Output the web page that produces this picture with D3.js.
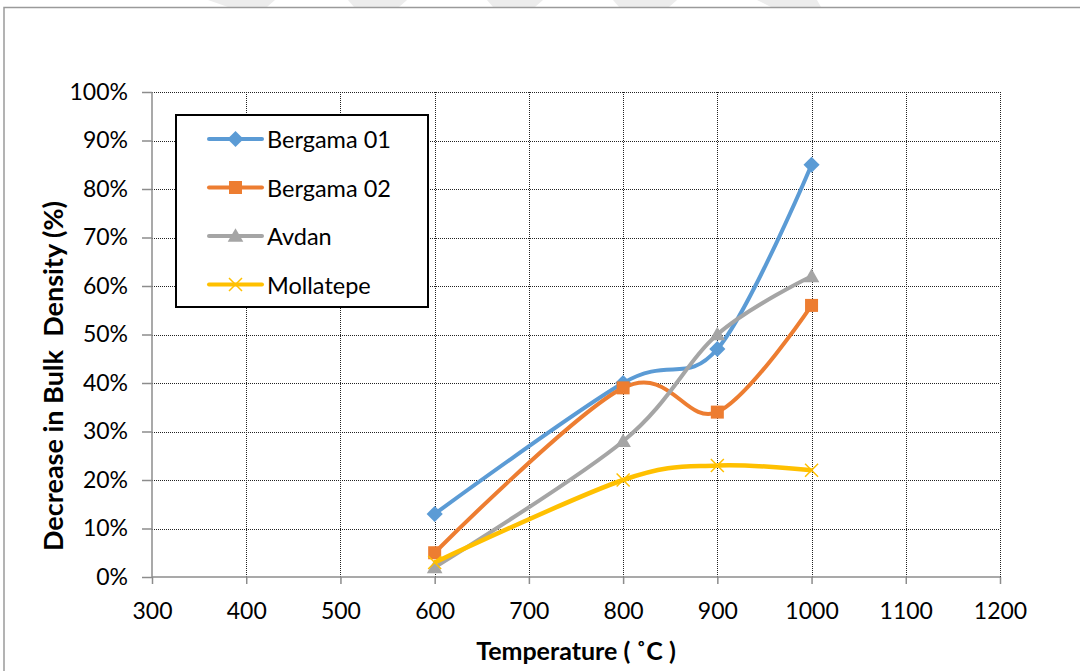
<!DOCTYPE html>
<html>
<head>
<meta charset="utf-8">
<script src="https://cdn.jsdelivr.net/npm/d3@7"></script>
<style>
  body { margin: 0; background: #fff; }
  text { font-family: Lato, "Open Sans", sans-serif; fill: #000; }
</style>
</head>
<body>
<div id="chart"></div>
<script>
// data
const temps = [600, 800, 900, 1000];
const bergama01 = [0.13, 0.40, 0.47, 0.85];
const bergama02 = [0.05, 0.39, 0.34, 0.56];
const avdan = [0.02, 0.28, 0.50, 0.62];
const mollatepe = [0.03, 0.20, 0.23, 0.22];
const seriesNames = ["Bergama 01", "Bergama 02", "Avdan", "Mollatepe"];
const seriesColors = ["#5b9bd5", "#ed7d31", "#a5a5a5", "#ffc000"];
const seriesMarkers = ["diamond", "square", "triangle", "cross"];
const xTicks = [300, 400, 500, 600, 700, 800, 900, 1000, 1100, 1200];
const yTicks = [0, 0.1, 0.2, 0.3, 0.4, 0.5, 0.6, 0.7, 0.8, 0.9, 1.0];

const W = 1080, H = 671;
const margin = {top: 92, right: 80, bottom: 94, left: 152};

const svg = d3.select("#chart").append("svg")
    .attr("width", W)
    .attr("height", H);

// faint watermark shapes above the frame
const marks = [[208, 275, 20, 8], [348, 407, 6, 8], [487, 543, 6, 8], [613, 677, 6, 8], [757, 817, 14, -4]];
marks.forEach(m => {
    svg.append("polygon")
        .attr("points", `${m[0]},0 ${m[1]},0 ${m[1] - m[3]},7 ${m[0] + m[2]},7`)
        .attr("fill", "#ececec");
});

// chart frame
svg.append("rect")
    .attr("x", 4).attr("y", 7.5)
    .attr("width", W + 20).attr("height", H + 20)
    .attr("fill", "none")
    .attr("stroke", "#9a9a9a")
    .attr("stroke-width", 1.5);

const x = d3.scaleLinear().domain([300, 1200]).range([margin.left, W - margin.right]);
const y = d3.scaleLinear().domain([0, 1]).range([H - margin.bottom, margin.top]);

const g = svg.append("g");

// dotted grid
g.selectAll(".hgrid").data(yTicks.filter(d => d > 0)).join("line")
    .attr("x1", x(300)).attr("x2", x(1200))
    .attr("y1", d => Math.round(y(d)) + 0.5).attr("y2", d => Math.round(y(d)) + 0.5)
    .attr("stroke", "#222").attr("stroke-width", 1).attr("stroke-dasharray", "1,1");

g.selectAll(".vgrid").data(xTicks.filter(d => d > 300)).join("line")
    .attr("x1", d => Math.round(x(d)) + 0.5).attr("x2", d => Math.round(x(d)) + 0.5)
    .attr("y1", y(1)).attr("y2", y(0))
    .attr("stroke", "#222").attr("stroke-width", 1).attr("stroke-dasharray", "1,1");

// axes
const yAxis = d3.axisLeft(y).tickValues(yTicks).tickFormat(d3.format(".0%")).tickSize(10).tickPadding(14);
const xAxis = d3.axisBottom(x).tickValues(xTicks).tickFormat(d3.format("d")).tickSize(7).tickPadding(19);

const ya = svg.append("g").attr("transform", `translate(${x(300)},0)`).call(yAxis);
const xa = svg.append("g").attr("transform", `translate(0,${y(0)})`).call(xAxis);
[ya, xa].forEach(a => {
    a.select(".domain").attr("stroke", "#8c8c8c").attr("stroke-width", 1.5);
    a.selectAll(".tick line").attr("stroke", "#8c8c8c").attr("stroke-width", 1.5);
    a.selectAll(".tick text").style("font-size", "23px").attr("fill", "#000");
});
xa.select(".domain").attr("d", `M${x(300)},0H${x(1200)}`);
ya.select(".domain").attr("d", `M0,${y(1)}V${y(0)}`);

// axis titles
svg.append("text")
    .attr("x", 576).attr("y", 660)
    .attr("text-anchor", "middle")
    .style("font-size", "25px").style("font-weight", "bold")
    .text("Temperature ( ˚C )");

svg.append("text")
    .attr("transform", "translate(63,376) rotate(-90)")
    .attr("text-anchor", "middle")
    .style("font-size", "27px").style("font-weight", "bold")
    .style("white-space", "pre")
    .text("Decrease in Bulk  Density (%)");

// series
const seriesData = [bergama01, bergama02, avdan, mollatepe];
const line = d3.line()
    .x((d, i) => x(temps[i]))
    .y(d => y(d))
    .curve(d3.curveCardinal.tension(0));

function drawMarker(sel, type, color, cx, cy, s) {
    if (type === "diamond") {
        sel.append("path")
            .attr("d", `M${cx},${cy - s * 0.62}L${cx + s * 0.62},${cy}L${cx},${cy + s * 0.62}L${cx - s * 0.62},${cy}Z`)
            .attr("fill", color);
    } else if (type === "square") {
        sel.append("rect")
            .attr("x", cx - s / 2).attr("y", cy - s / 2)
            .attr("width", s).attr("height", s)
            .attr("fill", color);
    } else if (type === "triangle") {
        sel.append("path")
            .attr("d", `M${cx},${cy - s * 0.6}L${cx + s * 0.6},${cy + s * 0.45}L${cx - s * 0.6},${cy + s * 0.45}Z`)
            .attr("fill", color);
    } else {
        const r = s * 0.5;
        sel.append("path")
            .attr("d", `M${cx - r},${cy - r}L${cx + r},${cy + r}M${cx - r},${cy + r}L${cx + r},${cy - r}`)
            .attr("stroke", color).attr("stroke-width", 1.5).attr("fill", "none");
    }
}

seriesData.forEach((vals, k) => {
    const sg = svg.append("g");
    sg.append("path")
        .datum(vals)
        .attr("d", line)
        .attr("fill", "none")
        .attr("stroke", seriesColors[k])
        .attr("stroke-width", k === 3 ? 4.5 : 4)
        .attr("stroke-linejoin", "round");
    vals.forEach((v, i) => drawMarker(sg, seriesMarkers[k], seriesColors[k], x(temps[i]), y(v), 13));
});

// legend
const lg = svg.append("g");
lg.append("rect")
    .attr("x", 176).attr("y", 115)
    .attr("width", 252).attr("height", 192)
    .attr("fill", "#fff")
    .attr("stroke", "#000").attr("stroke-width", 2);

seriesNames.forEach((name, k) => {
    const ly = 139 + k * 48.5;
    lg.append("line")
        .attr("x1", 209).attr("x2", 262)
        .attr("y1", ly).attr("y2", ly)
        .attr("stroke", seriesColors[k]).attr("stroke-width", 4)
        .attr("stroke-linecap", "round");
    drawMarker(lg, seriesMarkers[k], seriesColors[k], 235.5, ly, 13);
    lg.append("text")
        .attr("x", 267).attr("y", ly + 9)
        .style("font-size", "23.5px")
        .text(name);
});
</script>
</body>
</html>
